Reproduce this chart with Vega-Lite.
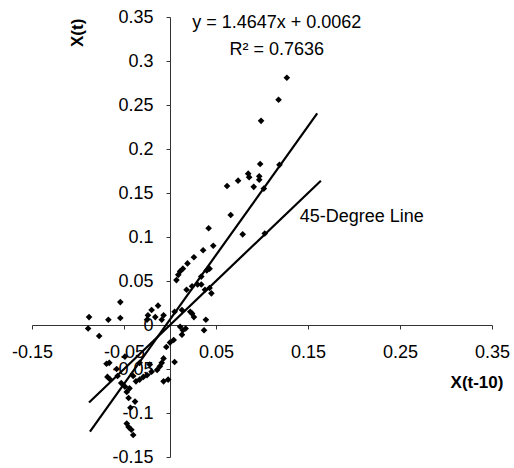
{
  "$schema": "https://vega.github.io/schema/vega-lite/v6.json",
  "width": 460,
  "height": 440,
  "autosize": {"type": "none"},
  "padding": {"left": 32, "top": 17, "right": 22, "bottom": 11},
  "background": "white",
  "config": {"view": {"stroke": null}, "font": "Liberation Sans"},
  "datasets": {
    "pts": [
      {"x": 0.127, "y": 0.281}, {"x": 0.118, "y": 0.256}, {"x": 0.099, "y": 0.232},
      {"x": 0.098, "y": 0.183}, {"x": 0.119, "y": 0.182}, {"x": 0.085, "y": 0.172},
      {"x": 0.086, "y": 0.168}, {"x": 0.074, "y": 0.164}, {"x": 0.097, "y": 0.169},
      {"x": 0.097, "y": 0.165}, {"x": 0.091, "y": 0.157}, {"x": 0.102, "y": 0.155},
      {"x": 0.062, "y": 0.158}, {"x": 0.066, "y": 0.125}, {"x": 0.079, "y": 0.103},
      {"x": 0.103, "y": 0.104}, {"x": 0.042, "y": 0.11}, {"x": 0.047, "y": 0.09},
      {"x": 0.036, "y": 0.085}, {"x": 0.026, "y": 0.077}, {"x": 0.019, "y": 0.07},
      {"x": 0.014, "y": 0.064}, {"x": 0.011, "y": 0.061}, {"x": 0.009, "y": 0.057},
      {"x": 0.007, "y": 0.051}, {"x": 0.024, "y": 0.044}, {"x": 0.03, "y": 0.046},
      {"x": 0.034, "y": 0.055}, {"x": 0.04, "y": 0.062}, {"x": 0.043, "y": 0.064},
      {"x": 0.038, "y": 0.04}, {"x": 0.043, "y": 0.042}, {"x": 0.045, "y": 0.036},
      {"x": 0.034, "y": 0.046}, {"x": 0.018, "y": 0.04},
      {"x": -0.088, "y": 0.009}, {"x": -0.089, "y": -0.004}, {"x": -0.077, "y": -0.0125},
      {"x": -0.067, "y": 0.006}, {"x": -0.054, "y": 0.026}, {"x": -0.054, "y": 0.008},
      {"x": -0.024, "y": 0.011}, {"x": -0.02, "y": 0.017}, {"x": -0.013, "y": 0.022},
      {"x": -0.016, "y": 0.009}, {"x": -0.025, "y": 0.006}, {"x": -0.007, "y": 0.011},
      {"x": -0.009, "y": 0.006}, {"x": 0.039, "y": 0.006}, {"x": 0.037, "y": -0.006},
      {"x": 0.011, "y": -0.002}, {"x": 0.014, "y": -0.006}, {"x": 0.013, "y": -0.011},
      {"x": 0.017, "y": -0.004}, {"x": 0.024, "y": 0.013}, {"x": 0.013, "y": 0.017},
      {"x": 0.022, "y": 0.015}, {"x": 0.026, "y": 0.009}, {"x": 0.005, "y": 0.015},
      {"x": 0.004, "y": -0.017}, {"x": 0.0, "y": -0.02}, {"x": -0.004, "y": -0.025},
      {"x": 0.005, "y": -0.042}, {"x": -0.007, "y": -0.038}, {"x": -0.009, "y": -0.043},
      {"x": -0.011, "y": -0.047}, {"x": -0.014, "y": -0.051}, {"x": -0.02, "y": -0.053},
      {"x": -0.025, "y": -0.057}, {"x": -0.007, "y": -0.064}, {"x": -0.002, "y": -0.062},
      {"x": -0.069, "y": -0.044}, {"x": -0.066, "y": -0.043}, {"x": -0.068, "y": -0.059},
      {"x": -0.065, "y": -0.062}, {"x": -0.057, "y": -0.058}, {"x": -0.053, "y": -0.066},
      {"x": -0.049, "y": -0.07}, {"x": -0.047, "y": -0.076}, {"x": -0.044, "y": -0.072},
      {"x": -0.04, "y": -0.058}, {"x": -0.037, "y": -0.064}, {"x": -0.033, "y": -0.062},
      {"x": -0.029, "y": -0.059}, {"x": -0.045, "y": -0.083}, {"x": -0.038, "y": -0.087},
      {"x": -0.043, "y": -0.094}, {"x": -0.047, "y": -0.112}, {"x": -0.045, "y": -0.116},
      {"x": -0.042, "y": -0.119}, {"x": -0.04, "y": -0.125}, {"x": -0.049, "y": -0.036},
      {"x": -0.058, "y": -0.05}, {"x": -0.033, "y": -0.043}, {"x": -0.022, "y": -0.045}
    ],
    "lines": [
      {"line": "regression", "x": -0.087, "y": -0.1212},
      {"line": "regression", "x": 0.16, "y": 0.2406},
      {"line": "45-degree", "x": -0.088, "y": -0.088},
      {"line": "45-degree", "x": 0.164, "y": 0.164}
    ],
    "one": [{}]
  },
  "layer": [
    {
      "data": {"name": "pts"},
      "mark": {"type": "point", "shape": "diamond", "filled": true, "color": "black", "size": 44, "opacity": 1},
      "encoding": {
        "x": {
          "field": "x", "type": "quantitative",
          "scale": {"domain": [-0.15, 0.35], "nice": false, "zero": false},
          "axis": {
            "orient": "bottom", "offset": -132, "title": null, "grid": false,
            "values": [-0.15, -0.05, 0.05, 0.15, 0.25, 0.35],
            "labelExpr": "'' + datum.value",
            "labelFlush": false, "labelOverlap": false, "labelBound": false,
            "labelFontSize": 18, "labelColor": "black", "labelPadding": 14,
            "tickSize": 4, "tickColor": "#333", "domainColor": "#333", "domainWidth": 1
          }
        },
        "y": {
          "field": "y", "type": "quantitative",
          "scale": {"domain": [-0.15, 0.35], "nice": false, "zero": false},
          "axis": {
            "orient": "left", "offset": -138, "title": null, "grid": false,
            "values": [-0.15, -0.1, -0.05, 0, 0.05, 0.1, 0.15, 0.2, 0.25, 0.3, 0.35],
            "labelExpr": "'' + datum.value",
            "labelFlush": false, "labelOverlap": false, "labelBound": false,
            "labelFontSize": 18, "labelColor": "black", "labelPadding": 13,
            "tickSize": 4, "tickColor": "#333", "domainColor": "#333", "domainWidth": 1
          }
        }
      }
    },
    {
      "data": {"name": "lines"},
      "mark": {"type": "line", "color": "black", "strokeWidth": 2.2},
      "encoding": {
        "x": {"field": "x", "type": "quantitative"},
        "y": {"field": "y", "type": "quantitative"},
        "detail": {"field": "line"}
      }
    },
    {
      "data": {"name": "one"},
      "mark": {"type": "text", "fontSize": 18, "align": "center", "baseline": "middle", "color": "black"},
      "encoding": {
        "x": {"datum": 0.116, "type": "quantitative"},
        "y": {"datum": 0.343, "type": "quantitative"},
        "text": {"value": "y = 1.4647x + 0.0062"}
      }
    },
    {
      "data": {"name": "one"},
      "mark": {"type": "text", "fontSize": 18, "align": "center", "baseline": "middle", "color": "black"},
      "encoding": {
        "x": {"datum": 0.116, "type": "quantitative"},
        "y": {"datum": 0.3125, "type": "quantitative"},
        "text": {"value": "R² = 0.7636"}
      }
    },
    {
      "data": {"name": "one"},
      "mark": {"type": "text", "fontSize": 18, "align": "left", "baseline": "middle", "color": "black"},
      "encoding": {
        "x": {"datum": 0.141, "type": "quantitative"},
        "y": {"datum": 0.1227, "type": "quantitative"},
        "text": {"value": "45-Degree Line"}
      }
    },
    {
      "data": {"name": "one"},
      "mark": {"type": "text", "fontSize": 17, "fontWeight": "bold", "align": "center", "baseline": "middle", "angle": 270, "color": "black"},
      "encoding": {
        "x": {"datum": -0.1, "type": "quantitative"},
        "y": {"datum": 0.332, "type": "quantitative"},
        "text": {"value": "X(t)"}
      }
    },
    {
      "data": {"name": "one"},
      "mark": {"type": "text", "fontSize": 17, "fontWeight": "bold", "align": "center", "baseline": "middle", "color": "black"},
      "encoding": {
        "x": {"datum": 0.3337, "type": "quantitative"},
        "y": {"datum": -0.0659, "type": "quantitative"},
        "text": {"value": "X(t-10)"}
      }
    }
  ]
}
